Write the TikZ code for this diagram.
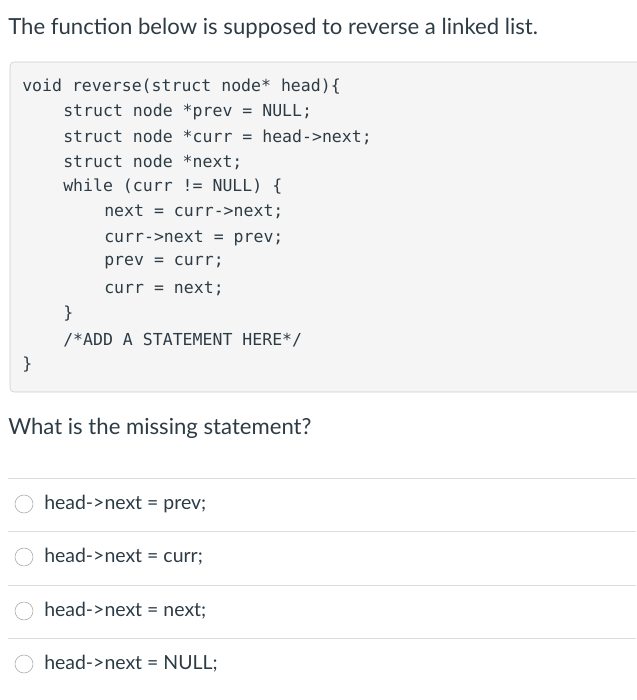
\documentclass[tikz,border=0pt]{standalone}
\usepackage{fontspec}
\setmainfont{Lato}
\setmonofont{DejaVu Sans Mono}
\usetikzlibrary{positioning}
\definecolor{CODEBG}{HTML}{F5F5F5}
\definecolor{CODEBORDER}{HTML}{CCCCCC}
\definecolor{RULEGRAY}{HTML}{DDDDDD}
\definecolor{TXT}{HTML}{2D3B45}
\begin{document}
\begin{tikzpicture}[x=0.75pt, y=-0.75pt,
    txt/.style={anchor=west, inner sep=0pt, text=TXT, font=\fontsize{16.6}{19}\selectfont},
    code/.style={anchor=west, inner sep=0pt, text=TXT, font=\ttfamily\fontsize{12.4}{15}\selectfont},
    opt/.style={anchor=west, inner sep=0pt, text=TXT, font=\fontsize{14.6}{17}\selectfont},
    radio/.style={circle, draw=gray!70, fill=white, minimum size=13.5pt, inner sep=0pt}
  ]
  \useasboundingbox (0,0) rectangle (636,700);
  \node[txt] (title) at (8,28) {The function below is supposed to reverse a linked list.};
  % code box
  \draw[CODEBORDER, fill=CODEBG, rounded corners=3pt] (10,62) rectangle (645,392);
  \node[code] (l1) at (22,87) {void reverse(struct node* head)\{};
  \node[code] (l2) at (63,112) {struct node *prev = NULL;};
  \node[code] (l3) at (63,137) {struct node *curr = head->next;};
  \node[code] (l4) at (63,162) {struct node *next;};
  \node[code] (l5) at (63,187) {while (curr != NULL) \{};
  \node[code] (l6) at (104,212) {next = curr->next;};
  \node[code] (l7) at (104,238) {curr->next = prev;};
  \node[code] (l8) at (104,263) {prev = curr;};
  \node[code] (l9) at (104,289) {curr = next;};
  \node[code] (l10) at (63,314) {\}};
  \node[code] (l11) at (63,340) {/*ADD A STATEMENT HERE*/};
  \node[code] (l12) at (22,365) {\}};
  \node[txt] (question) at (8,428) {What is the missing statement?};
  % answers
  \foreach \y/\a in {504/{head->next = prev;}, 557/{head->next = curr;},
                     611/{head->next = next;}, 664/{head->next = NULL;}} {
    \draw[RULEGRAY] (8,\y-26) -- (636,\y-26);
    \node[radio] (r\y) at (24,\y) {};
    \node[opt] (o\y) at (44,\y) {\a};
  }
\end{tikzpicture}
\end{document}
